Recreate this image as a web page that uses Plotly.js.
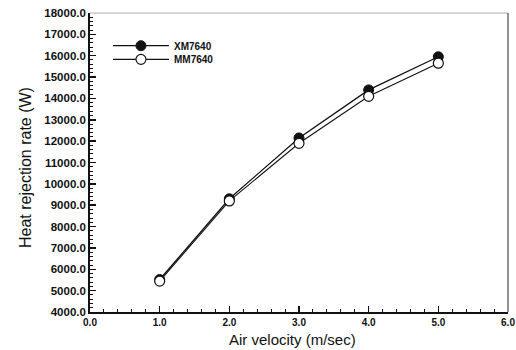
<!DOCTYPE html>
<html>
<head>
<meta charset="utf-8">
<script src="https://cdn.plot.ly/plotly-3.0.1.min.js"></script>
<style>html,body{margin:0;padding:0;background:#fff;}#chart{width:516px;height:350px;}</style>
</head>
<body>
<div id="chart"></div>
<script>
var airVelocity = [1.0, 2.0, 3.0, 4.0, 5.0];
var xm7640 = [5520, 9300, 12150, 14400, 15950];
var mm7640 = [5450, 9200, 11900, 14100, 15650];
var seriesNames = ["XM7640", "MM7640"];
var xTitle = "Air velocity (m/sec)";
var yTitle = "Heat rejection rate (W)";

var FONT = "Liberation Sans, Arial, sans-serif";

var traces = [
  {
    x: airVelocity, y: xm7640, name: seriesNames[0], type: "scatter", mode: "lines+markers",
    legend: "legend",
    line: {color: "#111", width: 1.3},
    marker: {symbol: "circle", size: 10, color: "#111", line: {color: "#111", width: 1}}
  },
  {
    x: airVelocity, y: mm7640, name: seriesNames[1], type: "scatter", mode: "lines+markers",
    legend: "legend2",
    line: {color: "#111", width: 1.1},
    marker: {symbol: "circle", size: 10, color: "#fff", line: {color: "#111", width: 1.2}}
  }
];

var legendCommon = {
  xanchor: "left", yanchor: "middle",
  bgcolor: "rgba(0,0,0,0)", borderwidth: 0,
  font: {size: 10, family: FONT, weight: "bold", color: "#111"},
  itemwidth: 56
};

var layout = {
  width: 516, height: 350,
  margin: {l: 90, r: 8, t: 13, b: 38},
  paper_bgcolor: "#fff", plot_bgcolor: "#fff",
  font: {family: FONT, color: "#111"},
  showlegend: true,
  legend: Object.assign({x: 0.043, y: 0.8906}, legendCommon),
  legend2: Object.assign({x: 0.043, y: 0.845}, legendCommon),
  xaxis: {
    range: [0, 6], dtick: 1, tick0: 0, tickformat: ".1f",
    ticks: "inside", ticklen: 6, tickwidth: 1.5, tickcolor: "#111",
    minor: {dtick: 0.2, ticks: "inside", ticklen: 3, tickcolor: "#111", tickwidth: 1},
    showgrid: false, zeroline: false,
    showline: true, linecolor: "#111", linewidth: 1.8, mirror: false,
    tickfont: {size: 10, family: FONT, weight: "bold"}
  },
  yaxis: {
    range: [4000, 18000], dtick: 1000, tick0: 4000, tickformat: ".1f",
    ticks: "inside", ticklen: 6, tickwidth: 1.5, tickcolor: "#111",
    minor: {dtick: 200, ticks: "inside", ticklen: 3, tickcolor: "#111", tickwidth: 1},
    showgrid: false, zeroline: false,
    showline: true, linecolor: "#111", linewidth: 1.8, mirror: false,
    tickfont: {size: 11.5, family: FONT, weight: "bold"}
  },
  annotations: [
    {text: xTitle, xref: "paper", yref: "paper", x: 0.4856, y: -0.093,
     xanchor: "center", yanchor: "middle", showarrow: false,
     font: {size: 15, family: FONT, color: "#111"}},
    {text: yTitle, xref: "paper", yref: "paper", x: -0.1555, y: 0.4816,
     xanchor: "center", yanchor: "middle", showarrow: false, textangle: -90,
     font: {size: 16, family: FONT, color: "#111"}}
  ],
  shapes: [
    {type: "line", xref: "paper", yref: "paper", x0: 0, x1: 1, y0: 1, y1: 1,
     line: {color: "#999", width: 0.8}},
    {type: "line", xref: "paper", yref: "paper", x0: 1, x1: 1, y0: 0, y1: 1,
     line: {color: "#222", width: 1}}
  ]
};

Plotly.newPlot("chart", traces, layout, {staticPlot: true, displayModeBar: false});
</script>
</body>
</html>
